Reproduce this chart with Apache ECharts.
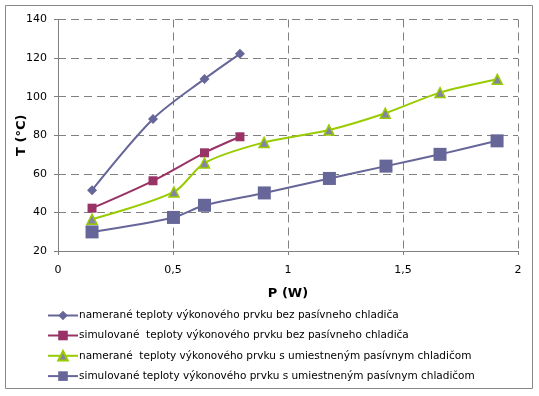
<!DOCTYPE html>
<html><head><meta charset="utf-8">
<script src="https://cdn.jsdelivr.net/npm/echarts@6/dist/echarts.min.js"></script>
<style>html,body{margin:0;padding:0;background:#fff}#c{width:539px;height:396px}</style>
</head><body><div id="c"></div>
<script>
const seriesNames = [
  'namerané teploty výkonového prvku bez pasívneho chladiča',
  'simulované  teploty výkonového prvku bez pasívneho chladiča',
  'namerané  teploty výkonového prvku s umiestneným pasívnym chladičom',
  'simulované teploty výkonového prvku s umiestneným pasívnym chladičom'
];
const p1 = [0.148, 0.413, 0.637, 0.791];
const t1 = [51.5, 88.4, 109.2, 122.2];
const p2 = [0.148, 0.413, 0.637, 0.791];
const t2 = [42.2, 56.4, 70.9, 79.2];
const p3 = [0.148, 0.504, 0.637, 0.896, 1.178, 1.423, 1.661, 1.91];
const t3 = [36.5, 50.6, 65.6, 76.3, 82.7, 91.4, 102.1, 109.0];
const p4 = [0.148, 0.502, 0.637, 0.897, 1.18, 1.426, 1.661, 1.909];
const t4 = [29.9, 37.4, 43.7, 50.1, 57.6, 64.0, 70.1, 77.1];
const xTickLabels = {0:'0', 0.5:'0,5', 1:'1', 1.5:'1,5', 2:'2'};

const zip = (a, b) => a.map((v, i) => [v, b[i]]);
const font = 'DejaVu Sans';
const chart = echarts.init(document.getElementById('c'), null, {renderer: 'canvas'});
chart.setOption({
  animation: false,
  backgroundColor: '#fff',
  textStyle: {fontFamily: font},
  graphic: [{type: 'rect', shape: {x: 5.5, y: 5.5, width: 527, height: 383}, style: {fill: 'none', stroke: '#888', lineWidth: 1}, silent: true}],
  grid: {left: 58, right: 21, top: 19.5, bottom: 145, containLabel: false, outerBoundsMode: 'none'},
  xAxis: {
    type: 'value', min: 0, max: 2, interval: 0.5,
    name: 'P (W)', nameLocation: 'middle', nameGap: 36, nameMoveOverlap: false,
    nameTextStyle: {fontFamily: font, fontSize: 13, fontWeight: 'bold', color: '#000'},
    axisLine: {show: true, lineStyle: {color: '#808080'}},
    axisTick: {show: true, length: 4, lineStyle: {color: '#808080'}},
    axisLabel: {color: '#000', fontSize: 11, margin: 14, formatter: v => xTickLabels[v] ?? String(v).replace('.', ',')},
    splitLine: {show: true, lineStyle: {color: '#808080', type: [8, 5]}}
  },
  yAxis: {
    type: 'value', min: 20, max: 140, interval: 20,
    name: 'T (°C)', nameLocation: 'middle', nameGap: 30, nameRotate: 90, nameMoveOverlap: false,
    nameTextStyle: {fontFamily: font, fontSize: 13, fontWeight: 'bold', color: '#000'},
    axisLine: {show: true, lineStyle: {color: '#808080'}},
    axisTick: {show: true, length: 4, lineStyle: {color: '#808080'}},
    axisLabel: {color: '#000', fontSize: 11, margin: 11},
    splitLine: {show: true, lineStyle: {color: '#808080', type: [8, 5]}}
  },
  legend: {
    orient: 'vertical', left: 47, top: 310, itemGap: 9, itemWidth: 30, itemHeight: 12, padding: 0,
    textStyle: {fontFamily: font, fontSize: 10.5, color: '#000', padding: [0, 0, 0, -4]},
    data: seriesNames
  },
  series: [
    {name: seriesNames[0], type: 'line', smooth: 0.3, data: zip(p1, t1), symbol: 'diamond', symbolSize: 10,
     lineStyle: {color: '#666699', width: 2}, itemStyle: {color: '#666699'}},
    {name: seriesNames[1], type: 'line', smooth: 0.3, data: zip(p2, t2), symbol: 'rect', symbolSize: 9,
     lineStyle: {color: '#993366', width: 2}, itemStyle: {color: '#993366'}},
    {name: seriesNames[2], type: 'line', smooth: 0.3, data: zip(p3, t3), symbol: 'triangle', symbolSize: 10,
     lineStyle: {color: '#99cc00', width: 2}, itemStyle: {color: '#8484a0', borderColor: '#99cc00', borderWidth: 1.5}},
    {name: seriesNames[3], type: 'line', smooth: 0.3, data: zip(p4, t4), symbol: 'rect', symbolSize: 13,
     lineStyle: {color: '#666699', width: 2}, itemStyle: {color: '#666699'}}
  ]
});
</script></body></html>
